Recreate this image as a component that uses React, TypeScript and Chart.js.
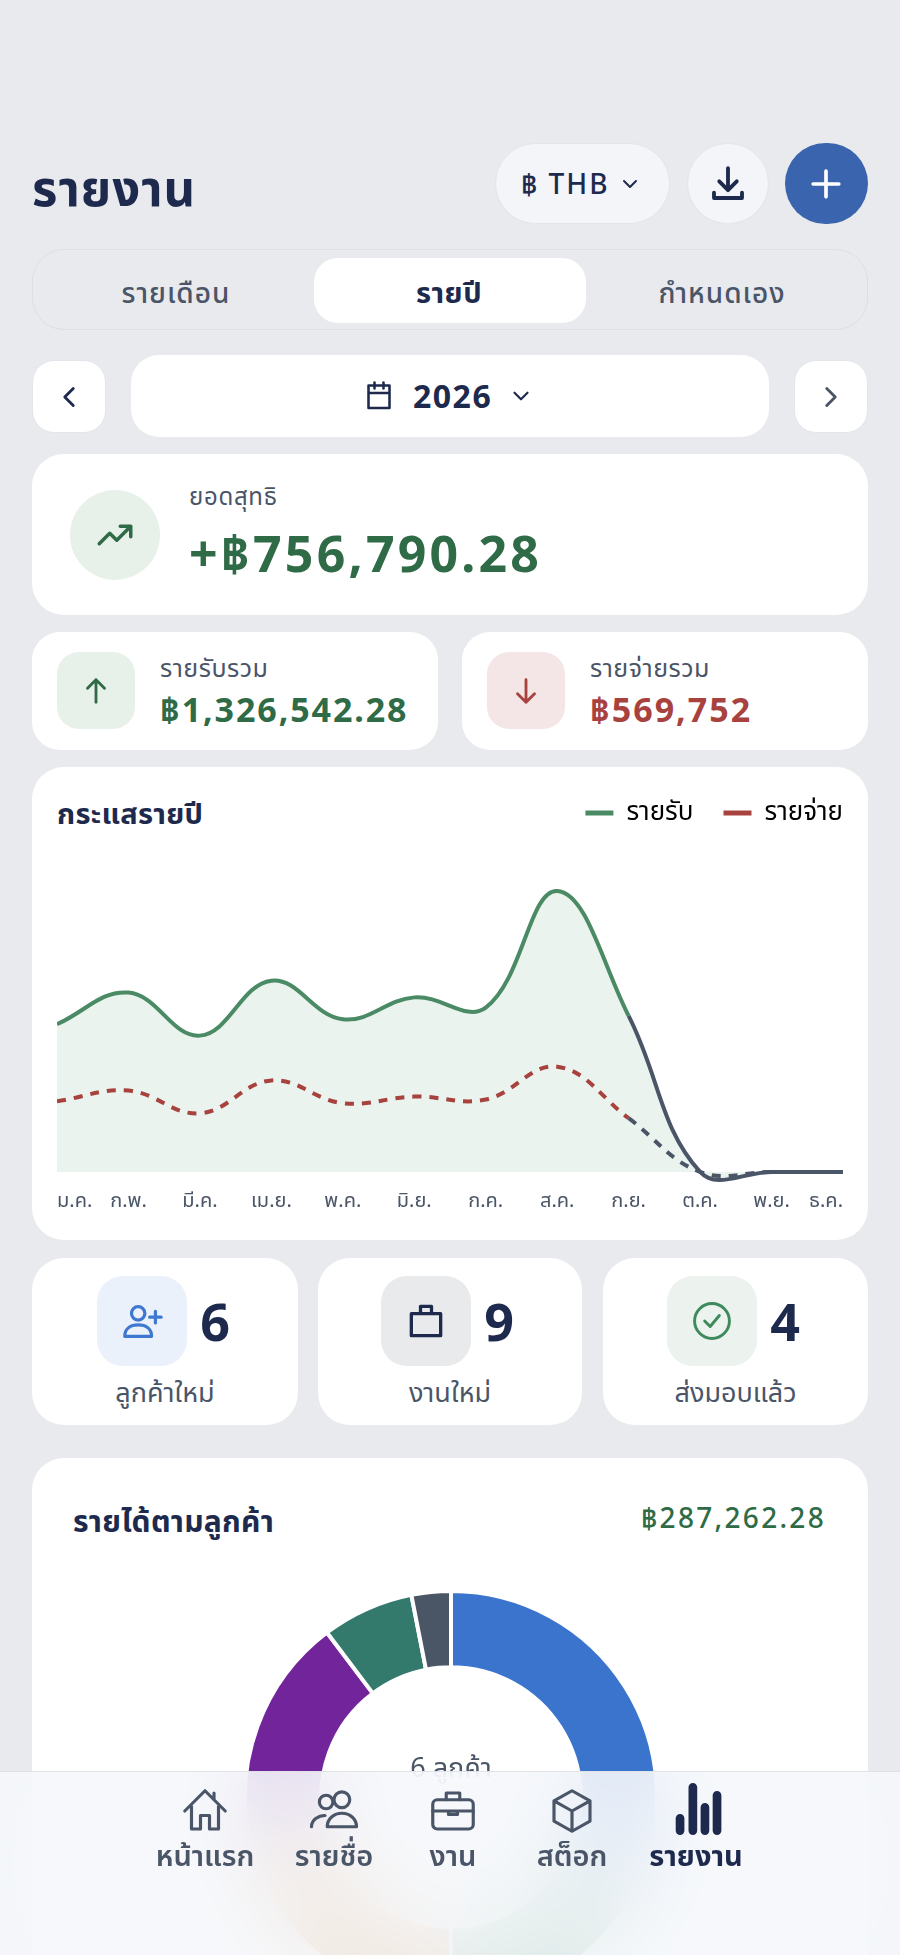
import React, { useEffect, useRef } from "react";
import { Chart, registerables } from "chart.js";

Chart.register(...registerables);

const months = ["ม.ค.", "ก.พ.", "มี.ค.", "เม.ย.", "พ.ค.", "มิ.ย.", "ก.ค.", "ส.ค.", "ก.ย.", "ต.ค.", "พ.ย.", "ธ.ค."];
const income = [123500, 150000, 114000, 160000, 127700, 146000, 137500, 235000, 130500, 0, 0, 0];
const expense = [59000, 68000, 49000, 76500, 57500, 63000, 60500, 88000, 44900, 0, 0, 0];

const clients = ["ลูกค้า A", "ลูกค้า B", "ลูกค้า C", "ลูกค้า D", "ลูกค้า E", "ลูกค้า F"];
const clientIncome = [91900, 51900, 61400, 52700, 20700, 8862];
const clientColors = ["#3a74cc", "#5a9a78", "#d98a3a", "#72259b", "#33796c", "#4a5565"];

const FONT = "'Noto Sans', 'Noto Sans Thai', Inter, sans-serif";
const NAVY = "#1e2a4d";
const GREY = "#4a5568";
const GREEN = "#2f6b46";
const RED = "#a8423f";
const TENSION = 0.4;

const box = (x: number, y: number, r: number, b: number, extra: React.CSSProperties = {}): React.CSSProperties => ({
  position: "absolute",
  left: x,
  top: y,
  width: r - x,
  height: b - y,
  boxSizing: "border-box",
  ...extra,
});

const Txt = ({ x, y, size, color = NAVY, weight = 400, align = "left", ls = 0, children }: any) => (
  <div
    style={{
      position: "absolute",
      left: align === "left" ? x : align === "center" ? x - 300 : x - 600,
      width: 600,
      top: y - 40,
      height: 80,
      lineHeight: "80px",
      fontSize: size,
      color,
      fontWeight: weight,
      textAlign: align,
      whiteSpace: "nowrap",
      letterSpacing: ls,
    }}
  >
    {children}
  </div>
);

const Icon = ({ x, y, size = 40, color = NAVY, sw = 2, children }: any) => (
  <svg
    viewBox="0 0 24 24"
    width={size}
    height={size}
    fill="none"
    stroke={color}
    strokeWidth={sw}
    strokeLinecap="round"
    strokeLinejoin="round"
    style={{ position: "absolute", left: x - size / 2, top: y - size / 2 }}
  >
    {children}
  </svg>
);

const FlowChart = () => {
  const ref = useRef<HTMLCanvasElement>(null);
  useEffect(() => {
    const future = (ctx: any, c: string) => (ctx.p0DataIndex >= 8 ? GREY : c);
    const chart = new Chart(ref.current!, {
      type: "line",
      data: {
        labels: months,
        datasets: [
          // area under income, on its own so the colour change doesn't leave a seam
          {
            label: "พื้นที่",
            data: income,
            backgroundColor: "#eaf3ed",
            borderWidth: 0,
            tension: TENSION,
            capBezierPoints: false,
            pointRadius: 0,
            fill: "origin",
            order: 2,
          },
          {
            label: "รายรับ",
            data: income,
            borderColor: "#4a8a64",
            borderWidth: 4,
            tension: TENSION,
            capBezierPoints: false,
            pointRadius: 0,
            fill: false,
            order: 0,
            segment: { borderColor: (ctx: any) => future(ctx, "#4a8a64") },
          },
          {
            label: "รายจ่าย",
            data: expense,
            borderColor: "#a8423f",
            borderWidth: 4,
            borderDash: [9, 8],
            tension: TENSION,
            capBezierPoints: false,
            pointRadius: 0,
            fill: false,
            order: 1,
            segment: { borderColor: (ctx: any) => future(ctx, "#a8423f") },
          },
        ],
      },
      options: {
        animation: false,
        responsive: false,
        clip: false,
        layout: { padding: 0, autoPadding: false },
        scales: {
          y: { display: false, min: -12300, max: 281000 },
          x: {
            offset: false,
            grid: { display: false },
            border: { display: false },
            afterFit: (s: any) => {
              s.paddingLeft = 0;
              s.paddingRight = 30;
              s.height = 28.4;
            },
            ticks: {
              align: "inner",
              maxRotation: 0,
              autoSkip: false,
              padding: -5,
              color: GREY,
              font: { family: FONT, size: 20 },
            },
          },
        },
        plugins: {
          legend: {
            position: "top",
            align: "end",
            labels: {
              boxWidth: 28,
              boxHeight: 5,
              useBorderRadius: true,
              borderRadius: 2.5,
              padding: 30,
              color: GREY,
              font: { family: FONT, size: 26 },
              generateLabels: () => [
                { text: "รายรับ", fillStyle: "#4a8a64", strokeStyle: "#4a8a64", lineWidth: 0, datasetIndex: 1 } as any,
                { text: "รายจ่าย", fillStyle: "#a8423f", strokeStyle: "#a8423f", lineWidth: 0, datasetIndex: 2 } as any,
              ],
            },
          },
          tooltip: { enabled: false },
        },
      },
    });
    return () => chart.destroy();
  }, []);
  return <canvas ref={ref} width={816} height={445} style={{ position: "absolute", left: 57, top: 770, width: 816, height: 445 }} />;
};

const ClientChart = () => {
  const ref = useRef<HTMLCanvasElement>(null);
  useEffect(() => {
    const chart = new Chart(ref.current!, {
      type: "doughnut",
      data: {
        labels: clients,
        datasets: [{ data: clientIncome, backgroundColor: clientColors, borderColor: "#ffffff", borderWidth: 4 }],
      },
      options: {
        animation: false,
        responsive: false,
        cutout: "63%",
        layout: { padding: 0 },
        plugins: { legend: { display: false }, tooltip: { enabled: false } },
      },
    });
    return () => chart.destroy();
  }, []);
  return <canvas ref={ref} width={416} height={416} style={{ position: "absolute", left: 243, top: 1589, width: 416, height: 416 }} />;
};

const card = { background: "#fff", borderRadius: 32 };

export default function App() {
  return (
    <div style={{ position: "absolute", left: 0, top: 0, width: 900, height: 1955, overflow: "hidden", background: "#e8eaed", fontFamily: FONT }}>
      <style>{`body{margin:0}`}</style>

      <Txt x={32} y={187} size={49} weight={700} ls={1}>รายงาน</Txt>

      <div style={box(495, 143, 670, 224, { background: "#f3f5f8", border: "1px solid #e2e5ea", borderRadius: 41 })} />
      <Txt x={521} y={183} size={28} weight={500} ls={2}>฿ THB</Txt>
      <Icon x={630} y={184} size={24}><path d="M6 9l6 6 6-6" /></Icon>
      <div style={box(687, 143, 769, 224, { background: "#f3f5f8", border: "1px solid #e2e5ea", borderRadius: 41 })} />
      <Icon x={728} y={184} size={42} sw={2.2}><path d="M12 3v12M7 10.5l5 5 5-5M4 17v3h16v-3" /></Icon>
      <div style={box(785, 143, 868, 224, { background: "#3a65ae", borderRadius: 42 })} />
      <Icon x={826} y={184} size={44} color="#fff" sw={2}><path d="M12 5v14M5 12h14" /></Icon>

      <div style={box(32, 249, 868, 330, { border: "1px solid #dcdfe4", borderRadius: 32 })} />
      <div style={box(314, 258, 586, 323, { background: "#fff", borderRadius: 24 })} />
      <Txt x={176} y={292} size={28} color={GREY} weight={500} ls={1}  align="center">รายเดือน</Txt>
      <Txt x={449} y={292} size={29} weight={700} ls={0.5} align="center">รายปี</Txt>
      <Txt x={722} y={292} size={28} color={GREY} weight={500} ls={1} align="center">กำหนดเอง</Txt>

      <div style={box(32, 360, 106, 433, { background: "#fff", border: "1px solid #e2e5ea", borderRadius: 22 })} />
      <Icon x={69} y={397} size={34}><path d="M15 6l-6 6 6 6" /></Icon>
      <div style={box(131, 355, 769, 437, { background: "#fff", borderRadius: 28 })} />
      <Icon x={379} y={396} size={36} sw={1.7}><path d="M5 5h14v15H5zM5 10h14M9 3v4M15 3v4" /></Icon>
      <Txt x={413} y={396} size={32} weight={700} ls={1.5}>2026</Txt>
      <Icon x={521} y={396} size={26}><path d="M6 9l6 6 6-6" /></Icon>
      <div style={box(794, 360, 868, 433, { background: "#fff", border: "1px solid #e2e5ea", borderRadius: 22 })} />
      <Icon x={831} y={397} size={34} color={GREY}><path d="M9 6l6 6-6 6" /></Icon>

      <div style={box(32, 454, 868, 615, card)} />
      <div style={box(70, 490, 160, 580, { background: "#e8f0ea", borderRadius: 45 })} />
      <Icon x={115} y={535} size={42} color={GREEN}><path d="M3 17l6-6 4 4 8-8M15 7h6v6" /></Icon>
      <Txt x={189} y={496} size={24} color={GREY} ls={0.7}>ยอดสุทธิ</Txt>
      <Txt x={189} y={553} size={50} color={GREEN} weight={700} ls={3.2}>+฿756,790.28</Txt>

      <div style={box(32, 632, 438, 750, { ...card, borderRadius: 28 })} />
      <div style={box(57, 652, 135, 729, { background: "#e8f0ea", borderRadius: 22 })} />
      <Icon x={96} y={691} size={34} color={GREEN}><path d="M12 20V4M6 10l6-6 6 6" /></Icon>
      <Txt x={160} y={667} size={25} color={GREY} ls={0.5}>รายรับรวม</Txt>
      <Txt x={160} y={709} size={34} color={GREEN} weight={700} ls={1.9}>฿1,326,542.28</Txt>

      <div style={box(462, 632, 868, 750, { ...card, borderRadius: 28 })} />
      <div style={box(487, 652, 565, 729, { background: "#f4e6e6", borderRadius: 22 })} />
      <Icon x={526} y={691} size={34} color={RED}><path d="M12 4v16M6 14l6 6 6-6" /></Icon>
      <Txt x={590} y={667} size={25} color={GREY} ls={0.5}>รายจ่ายรวม</Txt>
      <Txt x={590} y={709} size={34} color={RED} weight={700} ls={2}>฿569,752</Txt>

      <div style={box(32, 767, 868, 1240, card)} />
      <Txt x={57} y={813} size={29} weight={700} ls={0.3}>กระแสรายปี</Txt>
      <FlowChart />

      {[
        [32, 298, 97, "#ebf1fb", "6", "ลูกค้าใหม่"],
        [318, 582, 381, "#e9eaec", "9", "งานใหม่"],
        [603, 868, 667, "#ecf2ee", "4", "ส่งมอบแล้ว"],
      ].map(([l, r, ix, bg, n, label]: any) => (
        <React.Fragment key={label}>
          <div style={box(l, 1258, r, 1425, { ...card })} />
          <div style={box(ix, 1276, ix + 90, 1366, { background: bg, borderRadius: 26 })} />
          <Txt x={ix + 118} y={1321} size={52} weight={700} align="center">{n}</Txt>
          <Txt x={(l + r) / 2} y={1392} size={27} color={GREY} align="center">{label}</Txt>
        </React.Fragment>
      ))}
      <Icon x={142} y={1321} size={46} color="#3f78d0" sw={1.7}><circle cx="10" cy="8" r="3.5" /><path d="M3 20c0-4 3-6 7-6s7 2 7 6zM19 7v6M16 10h6" /></Icon>
      <Icon x={426} y={1321} size={44} sw={1.8}><path d="M4 8h16v12H4zM9 8V4h6v4" /></Icon>
      <Icon x={712} y={1321} size={44} color="#3f8a5c" sw={1.6}><circle cx="12" cy="12" r="9.5" /><path d="M8 12l3 3 5-6" /></Icon>

      <div style={box(32, 1458, 868, 2100, card)} />
      <Txt x={73} y={1521} size={30} weight={700} ls={0.3}>รายได้ตามลูกค้า</Txt>
      <Txt x={826} y={1517} size={28} color={GREEN} weight={500} ls={2.3} align="right">฿287,262.28</Txt>
      <ClientChart />
      <Txt x={451} y={1767} size={27} color={GREY} align="center">6 ลูกค้า</Txt>

      <div style={box(0, 1771, 900, 1955, { background: "rgba(245,247,250,0.88)", backdropFilter: "blur(40px)", borderTop: "1px solid #dfe2e7" })} />
      <Icon x={205} y={1811} size={54} color={GREY} sw={1.4}><path d="M3 12l9-9 9 9M6 10v10h4v-6h4v6h4V10M16 4v3" /></Icon>
      <Icon x={334} y={1811} size={54} color={GREY} sw={1.4}><circle cx="8.5" cy="8" r="3" /><circle cx="15.5" cy="7" r="3.5" /><path d="M2 19c0-3 3-5 6-5M9 19c0-3.500 3-6 6.500-6s6.500 2.500 6.500 6z" /></Icon>
      <Icon x={453} y={1811} size={54} color={GREY} sw={1.4}><rect x="3" y="7" width="18" height="13" rx="2" /><path d="M9 7V4h6v3M3 12h18M10 12v1.500h4V12" /></Icon>
      <Icon x={572} y={1811} size={54} color={GREY} sw={1.4}><path d="M12 3l8 4.500v9L12 21l-8-4.500v-9zM4 7.500l8 4.500 8-4.500M12 12v9" /></Icon>
      <Icon x={696} y={1811} size={58} sw={3.6}><path d="M5.400 20.100V15M10.700 20.100V2.200M15.700 20.100V10.500M20.700 20.100V5.500" /></Icon>
      {[
        [205, "หน้าแรก", GREY, 600],
        [334, "รายชื่อ", GREY, 600],
        [453, "งาน", GREY, 600],
        [572, "สต็อก", GREY, 600],
        [696, "รายงาน", NAVY, 700],
      ].map(([x, t, c, w]: any) => (
        <Txt key={t} x={x} y={1855} size={29} color={c} weight={w} align="center">{t}</Txt>
      ))}
    </div>
  );
}
